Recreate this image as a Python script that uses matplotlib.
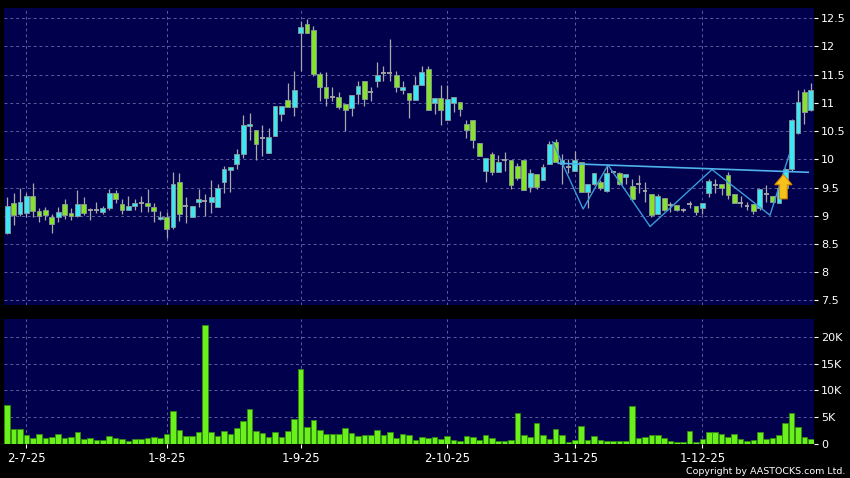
import numpy as np
import matplotlib
matplotlib.use("Agg")
import matplotlib.pyplot as plt
from matplotlib.patches import FancyArrow

# daily candles (one per trading day)
opens = [8.70, 9.23, 9.04, 9.05, 9.35, 9.09, 9.10, 8.98, 8.98, 9.20,
         9.05, 9.00, 9.20, 9.10, 9.11, 9.07, 9.14, 9.41, 9.20, 9.11,
         9.18, 9.23, 9.23, 9.16, 8.94, 8.98, 8.80, 9.59, 9.17, 8.97,
         9.24, 9.26, 9.25, 9.16, 9.59, 9.81, 9.91, 10.10, 10.59, 10.52,
         10.38, 10.12, 10.42, 10.80, 11.05, 10.92, 12.23, 12.39, 12.29, 11.51,
         11.28, 11.11, 11.11, 10.98, 10.91, 11.16, 11.38, 11.20, 11.38, 11.52,
         11.53, 11.49, 11.23, 11.17, 11.05, 11.32, 11.60, 11.00, 11.09, 10.70,
         11.00, 11.01, 10.63, 10.70, 10.29, 9.79, 10.09, 9.77, 9.98, 9.99,
         9.88, 9.99, 9.51, 9.74, 9.64, 9.92, 10.30, 9.91, 9.87, 9.80,
         9.95, 9.43, 9.57, 9.59, 9.44, 9.78, 9.75, 9.69, 9.53, 9.57,
         9.44, 9.38, 9.04, 9.31, 9.19, 9.19, 9.10, 9.20, 9.18, 9.14,
         9.40, 9.55, 9.56, 9.72, 9.38, 9.22, 9.17, 9.21, 9.13, 9.39,
         9.35, 9.23, 9.50, 9.82, 10.46, 11.19, 10.88]
highs = [9.33, 9.40, 9.49, 9.40, 9.58, 9.14, 9.15, 9.04, 9.16, 9.30,
         9.14, 9.45, 9.33, 9.14, 9.24, 9.18, 9.48, 9.45, 9.29, 9.35,
         9.30, 9.35, 9.47, 9.22, 9.08, 9.07, 9.78, 9.75, 9.33, 9.18,
         9.48, 9.38, 9.63, 9.56, 9.88, 9.87, 10.19, 10.78, 10.82, 10.52,
         10.60, 10.56, 10.94, 10.95, 11.36, 11.57, 12.45, 12.48, 12.37, 11.54,
         11.54, 11.28, 11.19, 10.98, 11.14, 11.38, 11.38, 11.28, 11.72, 11.65,
         12.13, 11.57, 11.39, 11.17, 11.48, 11.65, 11.65, 11.09, 11.32, 11.32,
         11.10, 11.01, 10.70, 10.70, 10.29, 10.02, 10.13, 10.08, 10.13, 9.99,
         9.94, 9.99, 9.83, 9.74, 9.92, 10.32, 10.36, 10.09, 10.00, 10.14,
         9.95, 9.56, 9.75, 9.64, 9.89, 9.80, 9.78, 9.74, 9.66, 9.72,
         9.60, 9.38, 9.38, 9.31, 9.25, 9.19, 9.14, 9.27, 9.18, 9.22,
         9.66, 9.65, 9.56, 9.78, 9.38, 9.35, 9.25, 9.21, 9.48, 9.54,
         9.35, 9.55, 9.84, 10.72, 11.22, 11.25, 11.36]
lows = [8.68, 8.83, 9.00, 8.98, 8.98, 8.89, 8.92, 8.69, 8.89, 8.94,
        8.92, 8.98, 9.02, 8.92, 9.05, 9.03, 9.10, 9.22, 9.04, 9.10,
        9.10, 9.07, 9.07, 8.89, 8.92, 8.60, 8.77, 8.91, 8.87, 8.97,
        9.16, 8.99, 9.05, 9.16, 9.41, 9.43, 9.82, 10.03, 10.34, 9.99,
        10.06, 10.12, 10.42, 10.68, 10.92, 10.76, 11.57, 12.23, 11.48, 11.03,
        10.95, 11.03, 10.89, 10.51, 10.76, 10.98, 10.94, 11.03, 11.28, 11.39,
        11.39, 11.19, 11.16, 10.74, 11.05, 11.32, 10.88, 10.81, 10.60, 10.70,
        10.83, 10.77, 10.37, 10.20, 10.06, 9.60, 9.72, 9.77, 9.80, 9.48,
        9.63, 9.45, 9.43, 9.48, 9.64, 9.92, 9.95, 9.56, 9.75, 9.80,
        9.42, 9.13, 9.55, 9.45, 9.42, 9.76, 9.55, 9.57, 9.27, 9.40,
        9.25, 8.97, 9.04, 9.08, 9.07, 9.08, 9.06, 9.14, 9.02, 9.03,
        9.34, 9.40, 9.36, 9.30, 9.22, 9.15, 9.10, 9.04, 9.10, 9.25,
        9.20, 9.22, 9.45, 9.80, 10.45, 10.63, 10.86]
closes = [9.18, 9.02, 9.24, 9.35, 9.09, 8.99, 9.02, 8.86, 9.07, 9.02,
          9.00, 9.20, 9.05, 9.10, 9.11, 9.14, 9.41, 9.29, 9.11, 9.18,
          9.23, 9.23, 9.17, 9.08, 8.98, 8.76, 9.57, 9.04, 9.17, 9.18,
          9.29, 9.26, 9.34, 9.50, 9.82, 9.87, 10.10, 10.60, 10.63, 10.28,
          10.38, 10.39, 10.94, 10.95, 10.92, 11.23, 12.35, 12.23, 11.51, 11.28,
          11.08, 11.11, 10.92, 10.88, 11.14, 11.29, 11.07, 11.20, 11.49, 11.52,
          11.53, 11.28, 11.28, 11.05, 11.32, 11.55, 10.88, 11.09, 10.88, 11.07,
          11.10, 10.89, 10.52, 10.34, 10.06, 10.02, 9.77, 9.95, 9.98, 9.55,
          9.67, 9.45, 9.75, 9.51, 9.86, 10.27, 9.95, 9.99, 9.87, 9.99,
          9.42, 9.56, 9.75, 9.49, 9.75, 9.78, 9.57, 9.74, 9.29, 9.57,
          9.44, 9.01, 9.35, 9.11, 9.19, 9.10, 9.10, 9.20, 9.06, 9.22,
          9.61, 9.55, 9.50, 9.37, 9.22, 9.22, 9.17, 9.08, 9.48, 9.39,
          9.25, 9.50, 9.82, 10.70, 11.01, 10.84, 11.23]
volumes = [7190, 2710, 2710, 1640, 1070, 1700, 1010, 1200, 1770, 1010,
           1130, 2080, 880, 950, 690, 690, 1390, 950, 820, 500,
           820, 820, 950, 1260, 1070, 1830, 6050, 2460, 1390, 1320,
           2080, 22320, 2080, 1390, 2270, 1700, 2900, 4220, 6490, 2270,
           1890, 1260, 2080, 1130, 2330, 4540, 14000, 3030, 4410, 2580,
           1700, 1700, 1830, 2900, 1890, 1320, 1510, 1510, 2460, 1580,
           2080, 1010, 1830, 1580, 570, 1250, 1070, 1190, 815, 1320,
           750, 500, 1320, 1190, 690, 1630, 940, 500, 500, 630,
           5710, 1690, 1250, 3890, 1570, 880, 2700, 1570, 310, 630,
           3260, 690, 1380, 750, 500, 500, 440, 440, 6960, 940,
           1190, 1690, 1570, 1070, 440, 190, 250, 2320, 190, 815,
           2130, 2130, 1820, 1190, 1820, 880, 380, 630, 2190, 815,
           1070, 1690, 3760, 5770, 3010, 1190, 880]

date_ticks = [3, 25, 46, 69, 89, 109]
date_labels = ["2-7-25", "1-8-25", "1-9-25", "2-10-25", "3-11-25", "1-12-25"]

price_ticks = [7.5, 8, 8.5, 9, 9.5, 10, 10.5, 11, 11.5, 12, 12.5]
vol_ticks = [0, 5000, 10000, 15000, 20000]
vol_labels = ["0", "5K", "10K", "15K", "20K"]

# pattern drawn on the chart: zigzag and neckline
zigzag_x = [85.5, 90.3, 94.2, 100.8, 110.5, 119.6, 122.6]
zigzag_y = [10.31, 9.12, 9.90, 8.81, 9.82, 9.01, 10.08]
neck_x = [86.4, 125.6]
neck_y = [9.93, 9.77]
arrow_x, arrow_base, arrow_tip = 121.7, 9.30, 9.73

up_col = "#3ee6f2"
down_col = "#86e22a"
bg = "#00004c"
grid_col = "#5c5c9c"

o = np.array(opens); h = np.array(highs); l = np.array(lows); c = np.array(closes)
v = np.array(volumes)
x = np.arange(len(o))

fig = plt.figure(figsize=(8.5, 4.78), dpi=100, facecolor="black")
ax1 = fig.add_axes([4/850, 1-305/478, 810/850, 297/478], facecolor=bg)
ax2 = fig.add_axes([4/850, 1-443.5/478, 810/850, 124.5/478], facecolor=bg)

for ax in (ax1, ax2):
    for s in ax.spines.values():
        s.set_visible(False)
    ax.set_xlim(-0.5, 126.5)
    ax.set_xticks(date_ticks)
    ax.grid(True, color=grid_col, linestyle=(0, (3, 3)), linewidth=0.7)
    ax.set_axisbelow(True)
    ax.yaxis.tick_right()
    ax.tick_params(axis="y", colors="white", labelsize=8, length=3, pad=2)
    ax.tick_params(axis="x", colors="white", labelsize=8.5, length=3, pad=3)

# candles
ax1.vlines(x, l, h, color="#a8a8a8", linewidth=0.9, zorder=2)
up = c > o
down = c < o
flat = c == o
ax1.bar(x[up], (c - o)[up], bottom=o[up], width=0.75, color=up_col,
        edgecolor="#8a9a9a", linewidth=0.6, zorder=3)
ax1.bar(x[down], (o - c)[down], bottom=c[down], width=0.75, color=down_col,
        edgecolor="#8a9a9a", linewidth=0.6, zorder=3)
ax1.hlines(o[flat], x[flat] - 0.38, x[flat] + 0.38, color="#a8a8a8",
           linewidth=1.3, zorder=3)

ax1.plot(zigzag_x, zigzag_y, color="#3a9ad9", linewidth=1.0, zorder=4)
ax1.plot(neck_x, neck_y, color="#4fb2ea", linewidth=1.2, zorder=4)
ax1.add_patch(FancyArrow(arrow_x, arrow_base, 0, arrow_tip - arrow_base,
                         width=1.2, head_width=2.7, head_length=0.18,
                         length_includes_head=True, facecolor="#f7c21a",
                         edgecolor="#d88a00", linewidth=0.8, zorder=5))

ax1.set_ylim(7.42, 12.68)
ax1.set_yticks(price_ticks)
ax1.set_yticklabels(["%g" % t for t in price_ticks])
ax1.tick_params(axis="x", labelbottom=False, length=0)

# volume
ax2.bar(x, v, width=0.88, color="#6cf01c", edgecolor="#2f8a10",
        linewidth=0.6, zorder=3)
ax2.set_ylim(0, 23400)
ax2.set_yticks(vol_ticks)
ax2.set_yticklabels(vol_labels)
ax2.set_xticklabels(date_labels)

fig.text(0.994, 0.004, "Copyright by AASTOCKS.com Ltd.", color="white",
         fontsize=6.8, ha="right", va="bottom")

fig.savefig("out.png", dpi=100, facecolor="black")
